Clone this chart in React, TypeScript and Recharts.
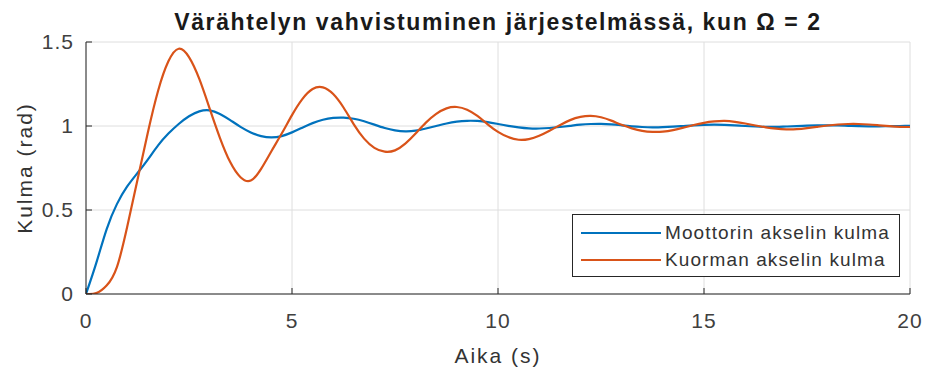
import { CartesianGrid, Legend, Line, LineChart, XAxis, YAxis } from 'recharts'

// sample times (s)
const time = [
  0, 0.25, 0.5, 0.75, 1, 1.25, 1.5, 1.75, 2, 2.25, 2.5, 2.75, 3, 3.25, 3.5, 3.75,
  4, 4.25, 4.5, 4.75, 5, 5.25, 5.5, 5.75, 6, 6.25, 6.5, 6.75, 7, 7.25, 7.5, 7.75,
  8, 8.25, 8.5, 8.75, 9, 9.25, 9.5, 9.75, 10, 10.25, 10.5, 10.75, 11, 11.25, 11.5, 11.75,
  12, 12.25, 12.5, 12.75, 13, 13.25, 13.5, 13.75, 14, 14.25, 14.5, 14.75, 15, 15.25, 15.5, 15.75,
  16, 16.25, 16.5, 16.75, 17, 17.25, 17.5, 17.75, 18, 18.25, 18.5, 18.75, 19, 19.25, 19.5, 19.75,
  20,
]

// motor shaft angle (rad)
const motorAngle = [
  0, 0.185, 0.385, 0.535, 0.64, 0.72, 0.8, 0.885, 0.955, 1.012, 1.058, 1.087, 1.093, 1.072, 1.035, 0.995,
  0.962, 0.94, 0.932, 0.94, 0.962, 0.99, 1.017, 1.037, 1.048, 1.05, 1.043, 1.028, 1.008, 0.988, 0.974, 0.968,
  0.972, 0.985, 1.0, 1.015, 1.026, 1.031, 1.03, 1.023, 1.012, 1.001, 0.992, 0.986, 0.985, 0.988, 0.994, 1.001,
  1.008, 1.012, 1.013, 1.01, 1.004, 0.998, 0.994, 0.992, 0.993, 0.996, 1.0, 1.004, 1.007, 1.008, 1.007, 1.004,
  1.0, 0.997, 0.995, 0.995, 0.997, 0.999, 1.002, 1.004, 1.004, 1.003, 1.001, 0.999, 0.998, 0.998, 0.999, 1.0,
  1.001,
]

// load shaft angle (rad)
const loadAngle = [
  0, 0.005, 0.05, 0.16, 0.4, 0.68, 0.96, 1.21, 1.385, 1.46, 1.41, 1.28, 1.105, 0.93, 0.785, 0.695,
  0.675, 0.745, 0.85, 0.955, 1.065, 1.16, 1.22, 1.23, 1.19, 1.11, 1.01, 0.925, 0.87, 0.847, 0.855, 0.895,
  0.955, 1.02, 1.072, 1.105, 1.113, 1.097, 1.06, 1.01, 0.965, 0.934, 0.918, 0.922, 0.942, 0.972, 1.005, 1.035,
  1.054, 1.06, 1.052, 1.032, 1.007, 0.986, 0.971, 0.965, 0.966, 0.975, 0.99, 1.006, 1.019, 1.027, 1.03, 1.025,
  1.015, 1.003, 0.992, 0.984, 0.98, 0.981, 0.987, 0.995, 1.003, 1.009, 1.012, 1.012, 1.009, 1.004, 0.999, 0.995,
  0.994,
]

const seriesNames = ['Moottorin akselin kulma', 'Kuorman akselin kulma']
const xTicks = [0, 5, 10, 15, 20]
const yTicks = [0, 0.5, 1, 1.5]

const data = time.map((t, i) => ({ t, motor: motorAngle[i], load: loadAngle[i] }))

const ink = '#262626'
const font = '"Liberation Sans", Arial, Helvetica, sans-serif'
const tickStyle = { fill: '#404040', fontSize: 21, fontFamily: font, letterSpacing: 1 }

const noLabel = () => <g />

function LegendBox({ payload }: any) {
  const items = [...(payload || [])].sort(
    (a: any, b: any) => seriesNames.indexOf(a.value) - seriesNames.indexOf(b.value),
  )
  return (
    <div
      style={{
        width: 328,
        height: 63,
        border: `1px solid ${ink}`,
        background: '#fff',
        fontFamily: font,
        fontSize: 19,
        letterSpacing: 1.1,
        color: '#333',
        paddingTop: 4,
        boxSizing: 'border-box',
      }}
    >
      {items.map((p: any) => (
        <div key={p.value} style={{ display: 'flex', alignItems: 'center', height: 27, whiteSpace: 'nowrap' }}>
          <svg width={92} height={10}>
            <line x1={8} x2={88} y1={5} y2={5} stroke={p.color} strokeWidth={2.2} />
          </svg>
          <span>{p.value}</span>
        </div>
      ))}
    </div>
  )
}

export default function App() {
  return (
    <div style={{ position: 'absolute', left: 0, top: 0, width: 928, height: 374, background: '#fff', fontFamily: font }}>
      <div
        style={{
          position: 'absolute',
          left: 86,
          width: 824,
          top: 9,
          textAlign: 'center',
          fontWeight: 'bold',
          fontSize: 23,
          letterSpacing: 1.6,
          color: '#1a1a1a',
          whiteSpace: 'nowrap',
        }}
      >
        Värähtelyn vahvistuminen järjestelmässä, kun Ω = 2
      </div>
      <LineChart width={928} height={374} data={data} margin={{ top: 42, right: 18, bottom: 40, left: 26 }}>
        <CartesianGrid stroke="#dedede" strokeWidth={1} />
        <XAxis
          dataKey="t"
          type="number"
          domain={[0, 20]}
          ticks={xTicks}
          height={40}
          tickSize={-6}
          tickMargin={25}
          stroke={ink}
          tick={tickStyle}
          allowDataOverflow
        />
        <XAxis
          xAxisId="top"
          orientation="top"
          type="number"
          domain={[0, 20]}
          ticks={xTicks}
          height={0}
          tickSize={-6}
          stroke={ink}
          tick={noLabel}
        />
        <YAxis
          type="number"
          domain={[0, 1.5]}
          ticks={yTicks}
          width={60}
          tickSize={-6}
          tickMargin={18}
          stroke={ink}
          tick={tickStyle}
          allowDataOverflow
        />
        <YAxis
          yAxisId="right"
          orientation="right"
          type="number"
          domain={[0, 1.5]}
          ticks={yTicks}
          width={0}
          tickSize={-6}
          stroke={ink}
          tick={noLabel}
        />
        <Legend
          layout="vertical"
          align="center"
          verticalAlign="middle"
          content={<LegendBox />}
          wrapperStyle={{ left: 572, top: 214, width: 328, height: 63 }}
        />
        <Line
          type="natural"
          dataKey="motor"
          name={seriesNames[0]}
          stroke="#0072BD"
          strokeWidth={2.2}
          dot={false}
          isAnimationActive={false}
        />
        <Line
          type="natural"
          dataKey="load"
          name={seriesNames[1]}
          stroke="#D95319"
          strokeWidth={2.2}
          dot={false}
          isAnimationActive={false}
        />
      </LineChart>
      <div
        style={{
          position: 'absolute',
          left: 86,
          width: 824,
          top: 344,
          textAlign: 'center',
          fontSize: 21,
          letterSpacing: 2,
          color: '#333',
        }}
      >
        Aika (s)
      </div>
      <div
        style={{
          position: 'absolute',
          left: 25 - 90,
          top: 168 - 12,
          width: 180,
          height: 24,
          lineHeight: '24px',
          textAlign: 'center',
          fontSize: 21,
          letterSpacing: 2,
          color: '#333',
          transform: 'rotate(-90deg)',
          whiteSpace: 'nowrap',
        }}
      >
        Kulma (rad)
      </div>
    </div>
  )
}
